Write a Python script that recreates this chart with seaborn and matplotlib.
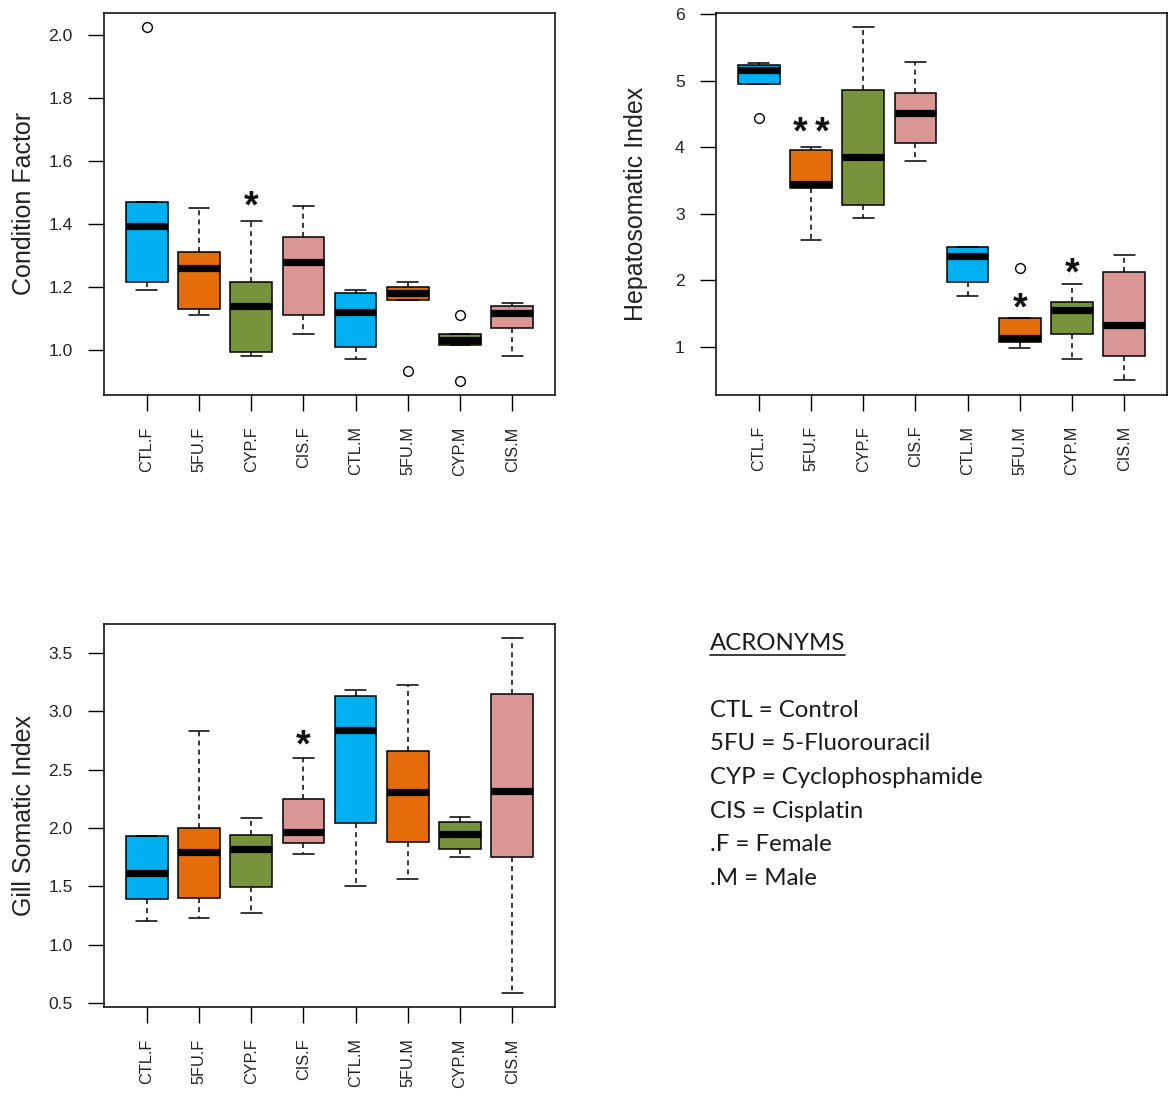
import numpy as np
import pandas as pd
import matplotlib
matplotlib.use("Agg")
import matplotlib.pyplot as plt
import seaborn as sns
from matplotlib.lines import Line2D
from matplotlib.transforms import offset_copy

groups = ["CTL.F", "5FU.F", "CYP.F", "CIS.F", "CTL.M", "5FU.M", "CYP.M", "CIS.M"]
box_colors = ["#00B0F0", "#E46C0A", "#77933C", "#D99694"] * 2

# box summaries: lower whisker, Q1, median, Q3, upper whisker
cf_lo = [1.190, 1.111, 0.981, 1.050, 0.971, 1.159, 1.016, 0.981]
cf_q1 = [1.217, 1.129, 0.995, 1.111, 1.008, 1.159, 1.016, 1.069]
cf_med = [1.395, 1.259, 1.140, 1.278, 1.122, 1.180, 1.032, 1.116]
cf_q3 = [1.469, 1.310, 1.217, 1.358, 1.180, 1.199, 1.050, 1.140]
cf_hi = [1.469, 1.450, 1.410, 1.458, 1.190, 1.217, 1.050, 1.148]
cf_out_group = ["CTL.F", "5FU.M", "CYP.M", "CYP.M"]
cf_out_value = [2.026, 0.933, 1.111, 0.902]

hsi_lo = [4.952, 2.607, 2.931, 3.789, 1.773, 0.985, 0.825, 0.501]
hsi_q1 = [4.952, 3.390, 3.131, 4.069, 1.983, 1.070, 1.200, 0.870]
hsi_med = [5.152, 3.455, 3.854, 4.513, 2.367, 1.135, 1.559, 1.334]
hsi_q3 = [5.241, 3.964, 4.862, 4.817, 2.507, 1.434, 1.684, 2.133]
hsi_hi = [5.260, 4.004, 5.810, 5.276, 2.507, 1.434, 1.943, 2.382]
hsi_out_group = ["CTL.F", "5FU.M"]
hsi_out_value = [4.443, 2.183]

gsi_lo = [1.204, 1.227, 1.270, 1.777, 1.505, 1.568, 1.748, 0.589]
gsi_q1 = [1.390, 1.405, 1.491, 1.868, 2.046, 1.883, 1.820, 1.748]
gsi_med = [1.619, 1.797, 1.820, 1.969, 2.842, 2.312, 1.949, 2.321]
gsi_q3 = [1.934, 1.997, 1.943, 2.249, 3.128, 2.664, 2.049, 3.151]
gsi_hi = [1.934, 2.828, 2.083, 2.598, 3.180, 3.228, 2.097, 3.629]
gsi_out_group = []
gsi_out_value = []

# significance marks: (group, height, number of asterisks)
cf_stars = [("CYP.F", 1.489, 1)]
hsi_stars = [("5FU.F", 4.39, 2), ("5FU.M", 1.735, 1), ("CYP.M", 2.26, 1)]
gsi_stars = [("CIS.F", 2.797, 1)]

acronym_lines = ["CTL = Control", "5FU = 5-Fluorouracil", "CYP = Cyclophosphamide",
                 "CIS = Cisplatin", ".F = Female", ".M = Male"]

sns.set_style("white")
plt.rcParams["font.family"] = ["Liberation Sans", "DejaVu Sans"]
plt.rcParams["lines.scale_dashes"] = False

W, H = 1174, 1098
fig = plt.figure(figsize=(W / 100, H / 100), dpi=100)
fig.patch.set_facecolor("white")


def panel(rect, lo, q1, med, q3, hi, out_g, out_v, stars, ylabel, yticks, fmt):
    ax = fig.add_axes(rect)
    rows = []
    for g, a, b, c, d, e in zip(groups, lo, q1, med, q3, hi):
        for v in (a, b, c, d, e):
            rows.append((g, v))
    df = pd.DataFrame(rows, columns=["group", "value"])
    sns.boxplot(data=df, x="group", y="value", hue="group", order=groups,
                hue_order=groups, palette=box_colors, legend=False, ax=ax,
                width=0.8, whis=(0, 100), showfliers=False, saturation=1,
                linecolor="black", linewidth=1.1,
                medianprops=dict(linewidth=5.2, color="black", solid_capstyle="butt"),
                whiskerprops=dict(linestyle=(0, (3.6, 3.0)), linewidth=1.1),
                capprops=dict(linewidth=1.1))
    if out_g:
        fl = pd.DataFrame({"group": out_g, "value": out_v})
        sns.stripplot(data=fl, x="group", y="value", order=groups, jitter=False,
                      color="white", edgecolor="black", linewidth=1, size=7,
                      ax=ax, zorder=3)
    allv = list(lo) + list(hi) + list(out_v)
    rng = max(allv) - min(allv)
    ax.set_ylim(min(allv) - 0.04 * rng, max(allv) + 0.04 * rng)
    ax.set_xlim(-0.82, len(groups) - 1 + 0.82)
    ax.set_xticks(range(len(groups)))
    ax.set_xticklabels(groups, rotation=90, fontsize=11.7, color="#222222")
    ax.set_yticks(yticks)
    ax.set_yticklabels([fmt.format(t) for t in yticks], fontsize=12.6, color="#222222")
    ax.tick_params(axis="both", direction="out", length=11.5, width=1, pad=11,
                   color="black", bottom=True, left=True, top=False, right=False)
    ax.set_xlabel("")
    ax.set_ylabel(ylabel, fontsize=18, color="#222222")
    ax.yaxis.set_label_coords(-0.15, 0.5)
    for s in ax.spines.values():
        s.set_visible(True)
        s.set_color("black")
        s.set_linewidth(1.1)
    # asterisks: glyph centre sits about 0.58 em above the baseline
    fs = 27
    for g, yv, n in stars:
        for k in range(n):
            dx = (k - (n - 1) / 2) * 15.5
            tr = offset_copy(ax.transData, fig=fig, x=dx, y=-0.58 * fs, units="points")
            ax.text(groups.index(g), yv, "*", transform=tr, ha="center",
                    va="baseline", fontsize=fs, fontweight="bold", color="#111111")
    return ax


def rect(x0, y0, x1, y1):
    return [x0 / W, 1 - y1 / H, (x1 - x0) / W, (y1 - y0) / H]


panel(rect(104, 12.6, 555, 395), cf_lo, cf_q1, cf_med, cf_q3, cf_hi,
      cf_out_group, cf_out_value, cf_stars, "Condition Factor",
      [1.0, 1.2, 1.4, 1.6, 1.8, 2.0], "{:.1f}")
panel(rect(716, 12.5, 1167, 394.5), hsi_lo, hsi_q1, hsi_med, hsi_q3, hsi_hi,
      hsi_out_group, hsi_out_value, hsi_stars, "Hepatosomatic Index",
      [1, 2, 3, 4, 5, 6], "{:d}")
panel(rect(104, 623.7, 555, 1007), gsi_lo, gsi_q1, gsi_med, gsi_q3, gsi_hi,
      gsi_out_group, gsi_out_value, gsi_stars, "Gill Somatic Index",
      [0.5, 1.0, 1.5, 2.0, 2.5, 3.0, 3.5], "{:.1f}")

# acronym legend text
tfam = ["Lato", "DejaVu Sans"]
title = fig.text(710 / W, 1 - 650.5 / H, "ACRONYMS", fontsize=17.3, family=tfam,
                 color="#1a1a1a", va="baseline", ha="left")
for i, line in enumerate(acronym_lines):
    fig.text(710 / W, 1 - (716.7 + 33.6 * i) / H, line, fontsize=17.3, family=tfam,
             color="#1a1a1a", va="baseline", ha="left")

fig.canvas.draw()
bb = title.get_window_extent()
uy = (H - 654.5) / H
fig.add_artist(Line2D([bb.x0 / W, bb.x1 / W], [uy, uy], transform=fig.transFigure,
                      color="#1a1a1a", linewidth=1.2))

fig.savefig("out.png", dpi=100, facecolor="white")
